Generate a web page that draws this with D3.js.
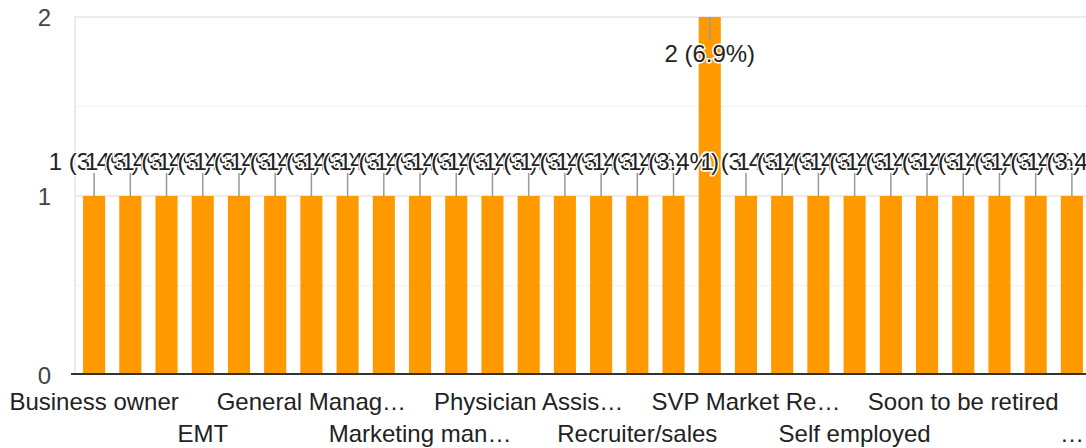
<!DOCTYPE html>
<html>
<head>
<meta charset="utf-8">
<script src="https://cdn.jsdelivr.net/npm/d3@7"></script>
<style>
    body { margin: 0; background: #fff; }
    svg text { font-family: Arial, "Liberation Sans", sans-serif; }
    .grid line { stroke: #ebebeb; stroke-width: 2; }
    .grid line.minor { stroke: #f4f4f4; stroke-width: 1.5; }
    .bar { fill: #ff9900; }
    .stem { stroke: #999; stroke-width: 1.5; }
    .annot { font-size: 24px; fill: #222; stroke: #fff; stroke-width: 3px; paint-order: stroke; stroke-linejoin: round; }
    .tick-label { font-size: 24px; fill: #444; }
    .cat-label { font-size: 24px; fill: #222; }
</style>
</head>
<body>
<svg id="chart" width="1086" height="448"></svg>
<script>
var categories = [
    "Business owner", "CEO", "Consultant", "EMT", "Engineer", "Executive assistant",
    "General Manager, retail", "HR Director", "IT manager", "Marketing manager", "Nurse", "Owner",
    "Physician Assistant", "Professor", "Project manager", "Recruiter/sales", "Registered nurse", "Retired",
    "SVP Market Research", "Sales", "Sales manager", "Self employed", "Software developer", "Software engineer",
    "Soon to be retired", "Student", "Teacher", "Vice President of Operations"
];
var counts = [
    1, 1, 1, 1, 1, 1,
    1, 1, 1, 1, 1, 1,
    1, 1, 1, 1, 1, 2,
    1, 1, 1, 1, 1, 1,
    1, 1, 1, 1
];
var yTicks = [0, 1, 2];
var yMinor = [0.5, 1.5];

(function() {
    var svg = d3.select("#chart")
        , W = +svg.attr("width")
        , left = 76
        , right = 1090
        , plotTop = 17
        , plotBottom = 375
        , total = d3.sum(counts)
        , fmtPct = d3.format(".1f")
        , maxW = 192
        ;

    var x = d3.scaleBand()
        .domain(categories)
        .range([left, right])
        .paddingInner(0.39)
        .paddingOuter(0.195);

    var y = d3.scaleLinear()
        .domain([0, 2])
        .range([plotBottom, plotTop]);

    // gridlines
    var grid = svg.append("g").attr("class", "grid");

    grid.selectAll("line.minor")
        .data(yMinor)
        .enter().append("line")
        .attr("class", "minor")
        .attr("x1", left - 1).attr("x2", W)
        .attr("y1", function(d) { return y(d); })
        .attr("y2", function(d) { return y(d); });

    grid.selectAll("line.major")
        .data(yTicks.filter(function(d) { return d > 0; }))
        .enter().append("line")
        .attr("class", "major")
        .attr("x1", left - 1).attr("x2", W)
        .attr("y1", function(d) { return y(d); })
        .attr("y2", function(d) { return y(d); });

    grid.append("line")
        .attr("x1", left - 1).attr("x2", left - 1)
        .attr("y1", y(2) - 1).attr("y2", y(0));

    // y tick labels
    svg.append("g")
        .selectAll("text")
        .data(yTicks)
        .enter().append("text")
        .attr("class", "tick-label")
        .attr("text-anchor", "end")
        .attr("x", 51)
        .attr("y", function(d) { return y(d); })
        .attr("dy", "0.36em")
        .text(function(d) { return d; });

    // bars
    svg.append("g")
        .selectAll("rect")
        .data(categories)
        .enter().append("rect")
        .attr("class", "bar")
        .attr("x", function(d) { return x(d); })
        .attr("width", x.bandwidth())
        .attr("y", function(d, i) { return y(counts[i]); })
        .attr("height", function(d, i) { return y(0) - y(counts[i]) - 1; });

    // baseline
    svg.append("line")
        .attr("x1", left - 5).attr("x2", W)
        .attr("y1", y(0) - 1).attr("y2", y(0) - 1)
        .attr("stroke", "#333")
        .attr("stroke-width", 2);

    // annotations: inside the bar when it reaches the top, above otherwise
    svg.append("g")
        .selectAll("g")
        .data(categories)
        .enter().append("g")
        .each(function(d, i) {
            var g = d3.select(this)
                , cx = x(d) + x.bandwidth() / 2
                , v = counts[i]
                , inside = v >= y.domain()[1]
                , yTop = y(v)
                ;

            g.append("line")
                .attr("class", "stem")
                .attr("x1", cx).attr("x2", cx)
                .attr("y1", inside ? yTop : yTop - 23)
                .attr("y2", inside ? yTop + 23 : yTop);

            g.append("text")
                .attr("class", "annot")
                .attr("text-anchor", "middle")
                .attr("x", cx)
                .attr("y", inside ? yTop + 45 : yTop - 26)
                .text(v + " (" + fmtPct(v / total * 100) + "%)");
        });

    // category labels: every third, two staggered rows, truncated to fit
    function fitLabel(sel, text, avail) {
        sel.text(text);
        if (sel.node().getComputedTextLength() <= avail) return;
        var s = text;
        while (s.length > 0) {
            s = s.slice(0, -1);
            sel.text(s.replace(/\s+$/, "") + "…");
            if (sel.node().getComputedTextLength() <= avail) return;
        }
        sel.text("…");
    }

    var labels = svg.append("g");

    categories.forEach(function(d, i) {
        if (i % 3 !== 0) return;
        var cx = x(d) + x.bandwidth() / 2
            , row = (i / 3) % 2
            , avail = Math.min(maxW, 2 * (W - cx))
            ;
        var t = labels.append("text")
            .attr("class", "cat-label")
            .attr("text-anchor", "middle")
            .attr("x", cx)
            .attr("y", row ? 442 : 410);
        fitLabel(t, d, avail);
    });
})();
</script>
</body>
</html>
